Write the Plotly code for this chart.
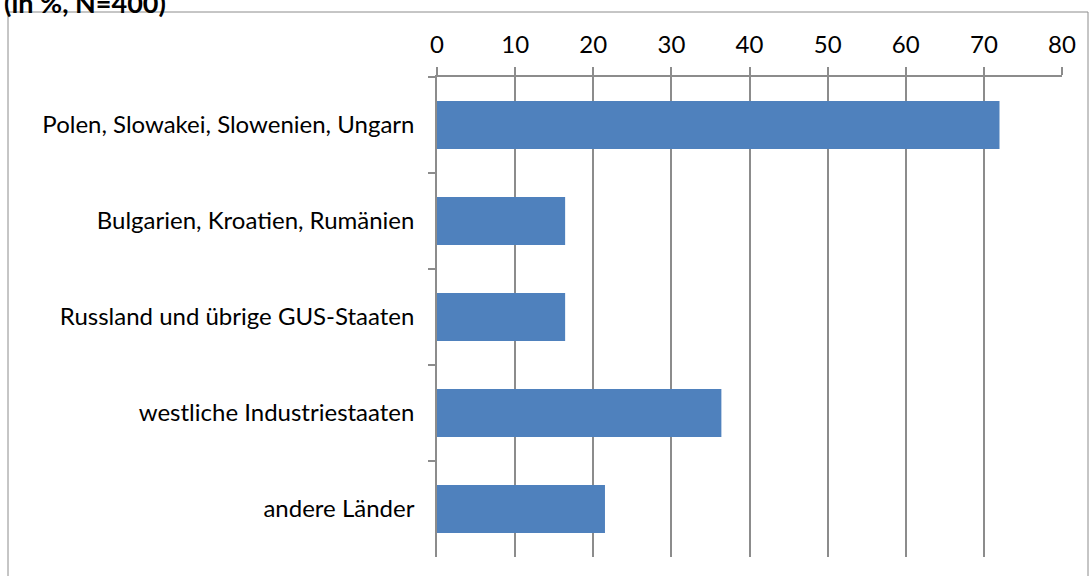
import plotly.graph_objects as go

kategorien = [
    'Polen, Slowakei, Slowenien, Ungarn',
    'Bulgarien, Kroatien, Rumänien',
    'Russland und übrige GUS-Staaten',
    'westliche Industriestaaten',
    'andere Länder',
]
anteile = [72.0, 16.4, 16.4, 36.4, 21.5]
x_ticks = [0, 10, 20, 30, 40, 50, 60, 70, 80]
titel = '(in %, N=400)'

GRAU = '#8c8c8c'
SCHRIFT = 'Lato, Open Sans, sans-serif'

fig = go.Figure()
fig.add_trace(go.Bar(
    x=anteile,
    y=kategorien,
    orientation='h',
    marker=dict(color='#4F81BD', line=dict(width=0)),
    hoverinfo='x+y',
))

fig.update_layout(
    width=1089,
    height=576,
    paper_bgcolor='white',
    plot_bgcolor='white',
    margin=dict(l=437, r=27, t=77, b=19),
    bargap=0.5,
    showlegend=False,
    font=dict(family=SCHRIFT, size=24, color='#000000'),
    xaxis=dict(
        side='top',
        range=[0, 80],
        tickvals=x_ticks,
        ticks='outside',
        ticklen=8,
        tickwidth=1.5,
        tickcolor=GRAU,
        ticklabelstandoff=5,
        showline=True,
        linecolor=GRAU,
        linewidth=1.5,
        showgrid=True,
        gridcolor=GRAU,
        gridwidth=1.5,
        zeroline=False,
        tickfont=dict(size=24),
        fixedrange=True,
    ),
    yaxis=dict(
        autorange='reversed',
        ticks='outside',
        tickson='boundaries',
        ticklen=7,
        tickwidth=1.5,
        tickcolor=GRAU,
        ticklabelstandoff=16,
        showline=True,
        linecolor=GRAU,
        linewidth=1.5,
        showgrid=False,
        tickfont=dict(size=24),
        fixedrange=True,
    ),
    shapes=[dict(
        type='rect', xref='paper', yref='paper',
        x0=(8 - 437) / 625, x1=(1088 - 437) / 625,
        y0=-0.1, y1=(557 - 12) / 480,
        line=dict(color=GRAU, width=1),
        layer='below',
    )],
    annotations=[dict(
        text='<b>' + titel + '</b>',
        xref='paper', yref='paper',
        x=(2 - 437) / 625, y=(557 - 2) / 480,
        xanchor='left', yanchor='middle',
        showarrow=False,
        font=dict(size=27, color='#000000'),
    )],
)

fig.write_html('out.html', config={'displayModeBar': False},
               post_script="document.body.style.margin='0';")
